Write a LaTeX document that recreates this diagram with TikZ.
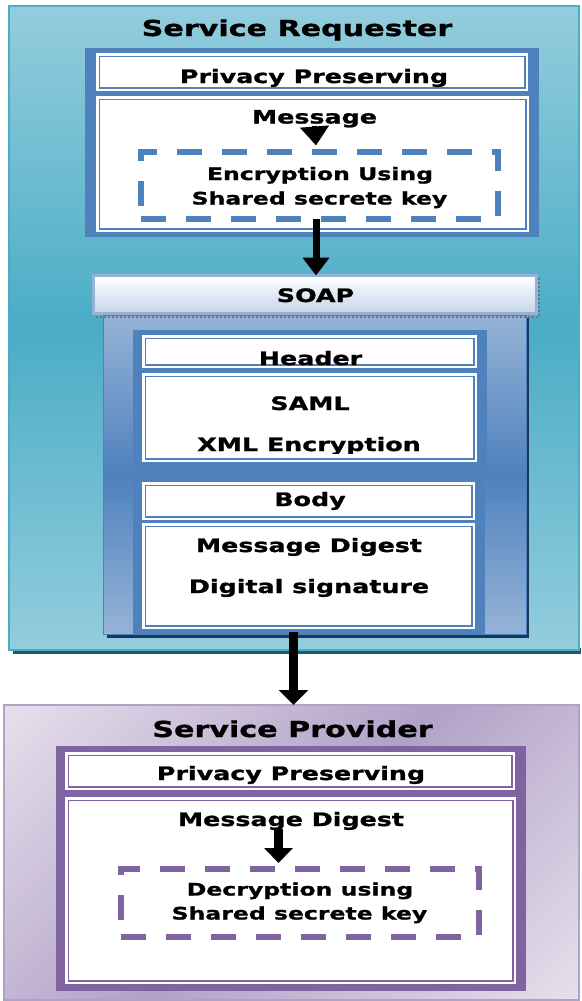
\documentclass[tikz,border=0pt]{standalone}
\usepackage{fontspec}
\newfontfamily\lbl{DejaVu Sans Bold}[FakeStretch=1.37,FakeBold=1.2]
\usetikzlibrary{arrows.meta,calc}
\definecolor{tealL}{HTML}{93CDDD}
\definecolor{tealD}{HTML}{4BACC6}
\definecolor{tealE}{HTML}{4BACC6}
\definecolor{tealS}{HTML}{215967}
\definecolor{blueF}{HTML}{4F81BD}
\definecolor{blueL}{HTML}{95B3D7}
\definecolor{soapB}{HTML}{C6D4E9}
\definecolor{blueS}{HTML}{17375E}
\definecolor{purF}{HTML}{8064A2}
\definecolor{purL}{HTML}{E6E0EC}
\definecolor{purD}{HTML}{B2A1C7}
\pgfdeclarehorizontalshading{provsh}{100bp}{color(0bp)=(purL); color(14.6bp)=(purL); color(50bp)=(purD); color(85.4bp)=(purL); color(100bp)=(purL)}
\newcommand\wbox[5]{\fill[white] (#2,#3) rectangle (#4,#5);
  \draw[#1, line width=1.4pt] ($(#2,#3)+(3.2,3.2)$) rectangle ($(#4,#5)-(3.2,3.2)$);}
\begin{document}
\begin{tikzpicture}[x=1pt,y=-1pt,
  txt/.style={font={\lbl\fontsize{18.5}{22}\selectfont}, anchor=base, inner sep=0pt},
  ttl/.style={txt, font={\lbl\fontsize{22}{26}\selectfont}},
  sml/.style={txt, font={\lbl\fontsize{17.2}{20}\selectfont}},
  boxnode/.style={inner sep=0pt, outer sep=0pt},
  dashbox/.style={boxnode, draw=#1, line width=6pt, dash pattern=on 25pt off 20pt},
  bigarr/.style args={#1/#2/#3}{line width=#1, -{Triangle[length=#2,width=#3]}},
]
\useasboundingbox (0,0) rectangle (581,1001);
\fill[white] (0,0) rectangle (581,1001);

% ---------- Service Requester ----------
\fill[tealS] (13,648) rectangle (581,654);
\node[boxnode, draw=tealE, line width=2.5pt, top color=tealL, bottom color=tealL, middle color=tealD,
      minimum width=570pt, minimum height=644pt] (req) at (294,328) {};
\node[ttl] (reqT) at (297,36) {Service Requester};

\node[boxnode, fill=blueF, minimum width=454pt, minimum height=189pt] (reqF) at (312,142.5) {};
\wbox{blueF}{96}{53}{528}{91}
\wbox{blueF}{96}{96}{529}{232}
\node[txt] (reqPP) at (314,83) {Privacy Preserving};
\node[dashbox=blueF, minimum width=357pt, minimum height=67pt] (enc) at (319.5,185.5) {};
\draw[bigarr=5pt/19pt/28pt] (314.5,126) -- (316,145.5);
\node[txt] (reqMsg) at (314.5,123.5) {Message};
\node[sml] (enc1) at (320,180) {Encryption Using};
\node[sml] (enc2) at (319.5,204.5) {Shared secrete key};

% ---------- SOAP ----------
\fill[blueS] (107,318) rectangle (529,638);
\node[boxnode, draw=blueF, line width=0.8pt, top color=blueL, bottom color=blueL, middle color=blueF,
      minimum width=423pt, minimum height=319pt] (cont) at (314.5,474.5) {};
\draw[black!55, line width=2pt, dotted] (96,317) -- (539,317) -- (539,278);
\node[boxnode, draw=blueL, line width=3pt, top color=white, bottom color=soapB,
      minimum width=443pt, minimum height=38pt] (soap) at (315,294.5) {};
\node[txt] (soapT) at (315.5,302) {SOAP};

\node[boxnode, fill=blueF, minimum width=354pt, minimum height=140pt] (hdrF) at (310,400) {};
\wbox{blueF}{142}{335}{477}{368}
\wbox{blueF}{142}{373}{477}{462}
\node[txt] (hdrT) at (310.5,365) {Header};
\node[txt] (saml) at (310,410) {SAML};
\begin{scope}
  \clip (142,373) rectangle (477,453);
  \node[txt] (xmlenc) at (309,451) {XML Encryption};
\end{scope}

\node[boxnode, fill=blueF, minimum width=352pt, minimum height=158pt] (bodyF) at (309,555) {};
\wbox{blueF}{142}{482}{475}{520}
\wbox{blueF}{142}{523}{475}{629}
\node[txt] (bodyT) at (310,506) {Body};
\node[txt] (mdig) at (309,552) {Message Digest};
\node[txt] (dsig) at (309,593) {Digital signature};

% ---------- Service Provider ----------
\node[boxnode, draw=purD, line width=2pt, shading=provsh, shading angle=-45,
      minimum width=575pt, minimum height=295pt] (prov) at (291.5,852.5) {};
\node[ttl] (provT) at (292.5,737) {Service Provider};
\node[boxnode, fill=purF, minimum width=470pt, minimum height=245pt] (provF) at (291,868.5) {};
\wbox{purF}{65}{752}{515}{790}
\wbox{purF}{65}{797}{516}{984}
\node[txt] (provPP) at (291,780) {Privacy Preserving};
\node[txt] (provMsg) at (291,826) {Message Digest};
\node[dashbox=purF, minimum width=358pt, minimum height=68pt] (dec) at (300,903) {};
\node[sml] (dec1) at (300,895.5) {Decryption using};
\node[sml] (dec2) at (299.5,919.5) {Shared secrete key};

% ---------- connectors ----------
\coordinate (a1) at (316,0);
\coordinate (a2) at (293.5,0);
\coordinate (a3) at (278.5,0);
\draw[bigarr=7pt/18pt/26pt] (enc.south -| a1) -- (soap.north -| a1);
\draw[bigarr=9pt/15pt/29pt] ([yshift=2pt]bodyF.south -| a2) -- (prov.north -| a2);
\draw[bigarr=9pt/15pt/28pt] ([yshift=-3pt]provMsg.base -| a3) -- ([yshift=6pt]dec.north -| a3);
\end{tikzpicture}
\end{document}
